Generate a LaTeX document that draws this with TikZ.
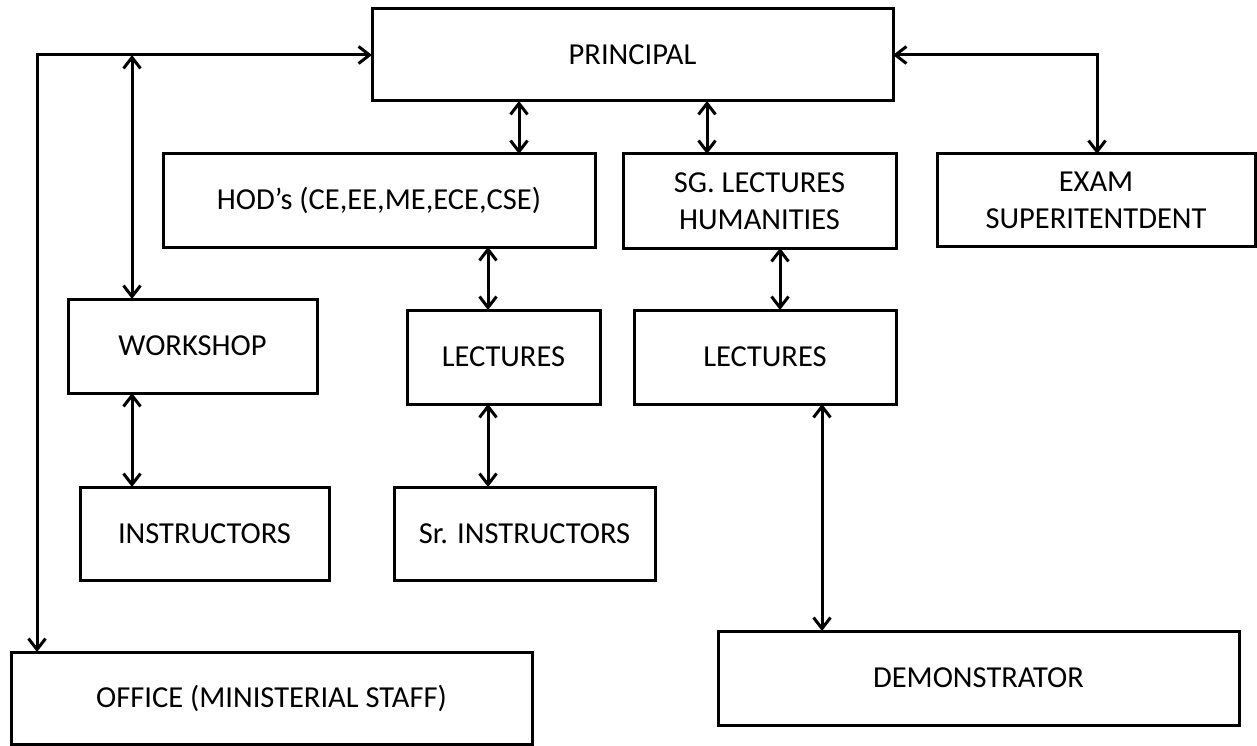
\documentclass[tikz,border=0pt]{standalone}
\usepackage{fontspec}
\setmainfont{Carlito}
\usetikzlibrary{arrows.meta}
\tikzset{
  box/.style={draw=black, line width=3pt, fill=white, inner sep=0pt, outer sep=0pt,
    align=center, font=\fontsize{30.5}{37}\selectfont},
  arr/.style={line width=3pt, {Straight Barb[length=11pt,width=17pt]}-{Straight Barb[length=11pt,width=17pt]}}
}
\begin{document}
\begin{tikzpicture}[x=1pt,y=-1pt]
\useasboundingbox (0,0) rectangle (1257,746);
% boxes
\node[box, minimum width=521pt, minimum height=92pt] (principal) at (632.5,55) {PRINCIPAL};
\node[box, minimum width=432pt, minimum height=93pt] (hod) at (379,200.5) {HOD’s (CE,EE,ME,ECE,CSE)};
\node[box, minimum width=273pt, minimum height=94pt] (sg) at (759.5,201) {SG. LECTURES\\HUMANITIES};
\node[box, minimum width=318pt, minimum height=92pt] (exam) at (1096,200) {EXAM\\SUPERITENTDENT};
\node[box, minimum width=249pt, minimum height=94pt] (workshop) at (192.5,346) {WORKSHOP};
\node[box, minimum width=193pt, minimum height=94pt] (lecta) at (503.5,357) {LECTURES};
\node[box, minimum width=262pt, minimum height=94pt] (lectb) at (765,357) {LECTURES};
\node[box, minimum width=249pt, minimum height=93pt] (instr) at (204.5,533.5) {INSTRUCTORS};
\node[box, minimum width=261pt, minimum height=93pt] (srinstr) at (524.5,533.5) {Sr. INSTRUCTORS};
\node[box, minimum width=521pt, minimum height=92pt] (office) at (271.5,698) {OFFICE (MINISTERIAL STAFF)};
\node[box, minimum width=521pt, minimum height=94pt] (demo) at (978.5,678) {DEMONSTRATOR};
% connector guide coordinates
\coordinate (lc) at (37,55);
\coordinate (wc) at (132,55);
\coordinate (hx) at (519,0);
\coordinate (sx) at (707,0);
\coordinate (ec) at (1097,55);
\coordinate (lx) at (488,0);
\coordinate (gx) at (780,0);
\coordinate (dx) at (822,0);
% connectors
\draw[arr] (lc |- office.north) -- (lc) -- (principal.west);
\draw[arr] (wc) -- (wc |- workshop.north);
\draw[arr] (hx |- principal.south) -- (hx |- hod.north);
\draw[arr] (sx |- principal.south) -- (sx |- sg.north);
\draw[arr] (principal.east) -- (ec) -- (ec |- exam.north);
\draw[arr] (lx |- hod.south) -- (lx |- lecta.north);
\draw[arr] (lx |- lecta.south) -- (lx |- srinstr.north);
\draw[arr] (wc |- workshop.south) -- (wc |- instr.north);
\draw[arr] (gx |- sg.south) -- (gx |- lectb.north);
\draw[arr] (dx |- lectb.south) -- (dx |- demo.north);
\end{tikzpicture}
\end{document}
